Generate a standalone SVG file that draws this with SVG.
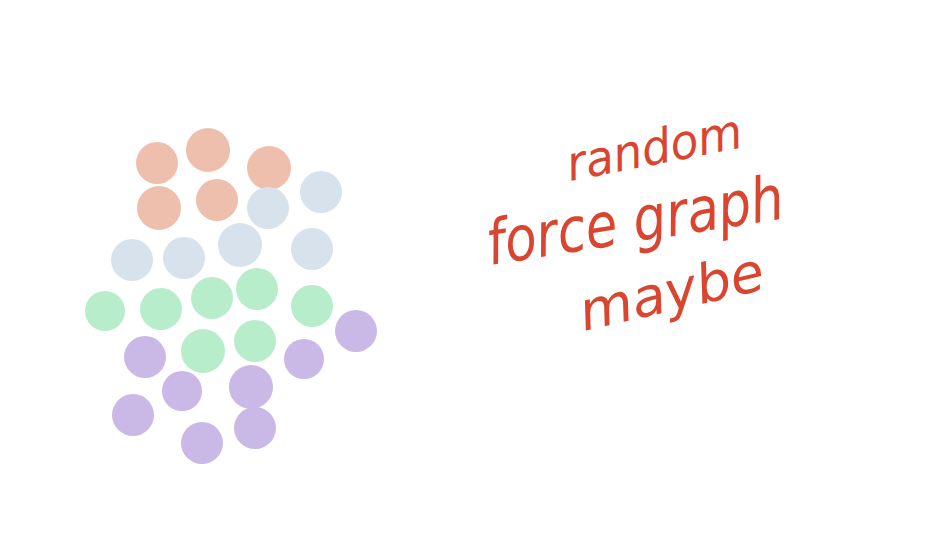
<svg xmlns="http://www.w3.org/2000/svg" width="925" height="537" viewBox="0 0 925 537">
<style>
.o{fill:#EFBFAE}.b{fill:#D8E2EC}.g{fill:#B8EDCC}.p{fill:#CAB8E7}
.t{fill:#D9452F;font-family:"DejaVu Sans",sans-serif;font-style:italic}
</style>
<rect width="925" height="537" fill="#fff"/>
<g id="nodes">
<circle id="n1" class="o" cx="157" cy="163" r="21"/>
<circle id="n2" class="o" cx="208" cy="150" r="22"/>
<circle id="n3" class="o" cx="269" cy="168" r="22"/>
<circle id="n4" class="o" cx="159" cy="208" r="22"/>
<circle id="n5" class="o" cx="217" cy="200" r="21"/>
<circle id="n6" class="b" cx="268" cy="208" r="21"/>
<circle id="n7" class="b" cx="321" cy="192" r="21"/>
<circle id="n8" class="b" cx="132" cy="260" r="21"/>
<circle id="n9" class="b" cx="184" cy="258" r="21"/>
<circle id="n10" class="b" cx="240" cy="245" r="22"/>
<circle id="n11" class="b" cx="312" cy="249" r="21"/>
<circle id="n12" class="g" cx="105" cy="311" r="20"/>
<circle id="n13" class="g" cx="161" cy="309" r="21"/>
<circle id="n14" class="g" cx="212" cy="298" r="21"/>
<circle id="n15" class="g" cx="257" cy="289" r="21"/>
<circle id="n16" class="g" cx="312" cy="306" r="21"/>
<circle id="n17" class="g" cx="203" cy="351" r="22"/>
<circle id="n18" class="g" cx="255" cy="341" r="21"/>
<circle id="n19" class="p" cx="356" cy="331" r="21"/>
<circle id="n20" class="p" cx="145" cy="357" r="21"/>
<circle id="n21" class="p" cx="304" cy="359" r="20"/>
<circle id="n22" class="p" cx="182" cy="391" r="20"/>
<circle id="n23" class="p" cx="251" cy="387" r="22"/>
<circle id="n24" class="p" cx="133" cy="415" r="21"/>
<circle id="n25" class="p" cx="202" cy="443" r="21"/>
<circle id="n26" class="p" cx="255" cy="428" r="21"/>
</g>
<g id="connectors"></g>
<g id="labels">
<text class="t" transform="translate(570,181) rotate(-11)" font-size="48" textLength="178" lengthAdjust="spacingAndGlyphs">random</text>
<text class="t" transform="translate(490,265) rotate(-9)" font-size="62" textLength="300" lengthAdjust="spacingAndGlyphs">force graph</text>
<text class="t" transform="translate(584,331) rotate(-13)" font-size="54" textLength="188" lengthAdjust="spacingAndGlyphs">maybe</text>
</g>
</svg>
